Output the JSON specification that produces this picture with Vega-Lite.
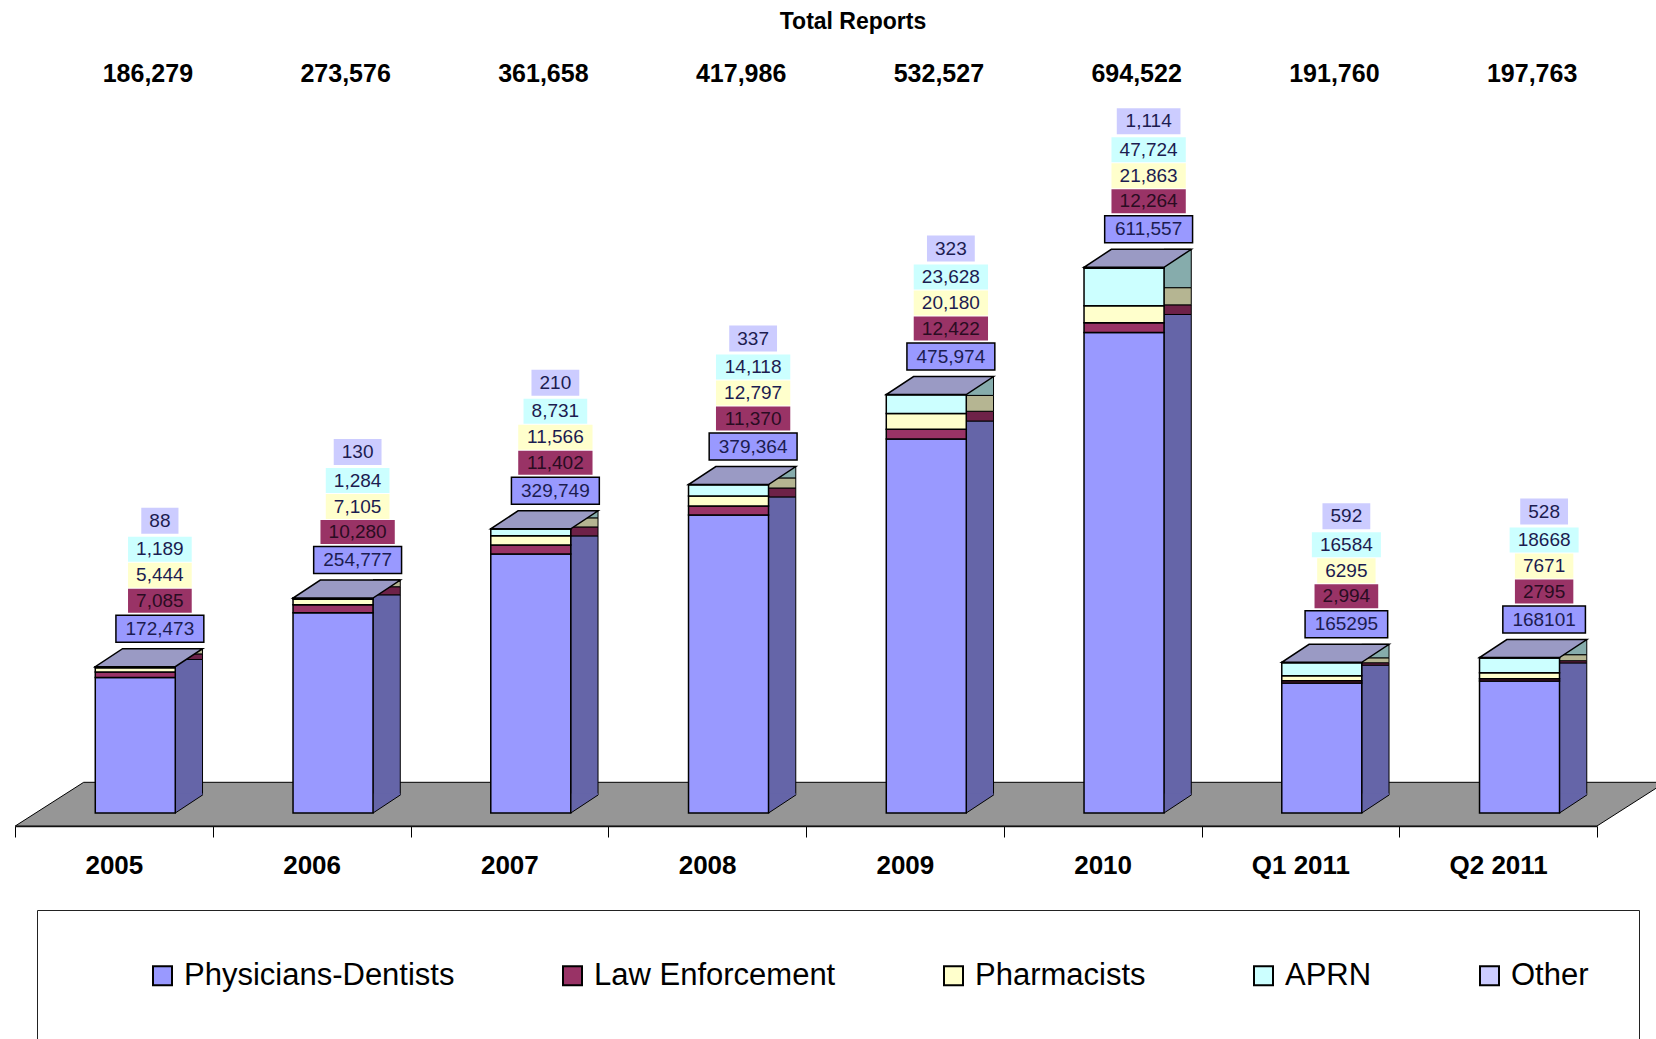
{
  "$schema": "https://vega.github.io/schema/vega-lite/v6.json",
  "autosize": {"type": "pad"},
  "padding": {"top": 11, "left": 13, "right": 0, "bottom": 0},
  "background": "white",
  "config": {"view": {"stroke": null}, "font": "Liberation Sans"},
  "title": {"text": "Total Reports", "anchor": "middle", "frame": "group", "dx": 47, "offset": 20, "font": "Liberation Sans", "fontSize": 23, "fontWeight": "bold", "color": "#000"},
  "datasets": {
    "reports": [
      {"period": "2005", "role": "Physicians-Dentists", "count": 172473, "label": "172,473"},
      {"period": "2005", "role": "Law Enforcement", "count": 7085, "label": "7,085"},
      {"period": "2005", "role": "Pharmacists", "count": 5444, "label": "5,444"},
      {"period": "2005", "role": "APRN", "count": 1189, "label": "1,189"},
      {"period": "2005", "role": "Other", "count": 88, "label": "88"},
      {"period": "2006", "role": "Physicians-Dentists", "count": 254777, "label": "254,777"},
      {"period": "2006", "role": "Law Enforcement", "count": 10280, "label": "10,280"},
      {"period": "2006", "role": "Pharmacists", "count": 7105, "label": "7,105"},
      {"period": "2006", "role": "APRN", "count": 1284, "label": "1,284"},
      {"period": "2006", "role": "Other", "count": 130, "label": "130"},
      {"period": "2007", "role": "Physicians-Dentists", "count": 329749, "label": "329,749"},
      {"period": "2007", "role": "Law Enforcement", "count": 11402, "label": "11,402"},
      {"period": "2007", "role": "Pharmacists", "count": 11566, "label": "11,566"},
      {"period": "2007", "role": "APRN", "count": 8731, "label": "8,731"},
      {"period": "2007", "role": "Other", "count": 210, "label": "210"},
      {"period": "2008", "role": "Physicians-Dentists", "count": 379364, "label": "379,364"},
      {"period": "2008", "role": "Law Enforcement", "count": 11370, "label": "11,370"},
      {"period": "2008", "role": "Pharmacists", "count": 12797, "label": "12,797"},
      {"period": "2008", "role": "APRN", "count": 14118, "label": "14,118"},
      {"period": "2008", "role": "Other", "count": 337, "label": "337"},
      {"period": "2009", "role": "Physicians-Dentists", "count": 475974, "label": "475,974"},
      {"period": "2009", "role": "Law Enforcement", "count": 12422, "label": "12,422"},
      {"period": "2009", "role": "Pharmacists", "count": 20180, "label": "20,180"},
      {"period": "2009", "role": "APRN", "count": 23628, "label": "23,628"},
      {"period": "2009", "role": "Other", "count": 323, "label": "323"},
      {"period": "2010", "role": "Physicians-Dentists", "count": 611557, "label": "611,557"},
      {"period": "2010", "role": "Law Enforcement", "count": 12264, "label": "12,264"},
      {"period": "2010", "role": "Pharmacists", "count": 21863, "label": "21,863"},
      {"period": "2010", "role": "APRN", "count": 47724, "label": "47,724"},
      {"period": "2010", "role": "Other", "count": 1114, "label": "1,114"},
      {"period": "Q1 2011", "role": "Physicians-Dentists", "count": 165295, "label": "165295"},
      {"period": "Q1 2011", "role": "Law Enforcement", "count": 2994, "label": "2,994"},
      {"period": "Q1 2011", "role": "Pharmacists", "count": 6295, "label": "6295"},
      {"period": "Q1 2011", "role": "APRN", "count": 16584, "label": "16584"},
      {"period": "Q1 2011", "role": "Other", "count": 592, "label": "592"},
      {"period": "Q2 2011", "role": "Physicians-Dentists", "count": 168101, "label": "168101"},
      {"period": "Q2 2011", "role": "Law Enforcement", "count": 2795, "label": "2795"},
      {"period": "Q2 2011", "role": "Pharmacists", "count": 7671, "label": "7671"},
      {"period": "Q2 2011", "role": "APRN", "count": 18668, "label": "18668"},
      {"period": "Q2 2011", "role": "Other", "count": 528, "label": "528"}
    ]
  },
  "spacing": 0,
  "vconcat": [
    {
      "width": 1582,
      "height": 40,
      "data": {"name": "reports"},
      "mark": {"type": "text", "xOffset": 34, "font": "Liberation Sans", "fontSize": 25, "fontWeight": "bold", "fill": "#000", "baseline": "middle"},
      "encoding": {
        "x": {"field": "period", "type": "nominal", "sort": null, "scale": {"type": "band", "domain": ["2005", "2006", "2007", "2008", "2009", "2010", "Q1 2011", "Q2 2011"], "paddingInner": 0, "paddingOuter": 0}, "axis": null},
        "text": {"aggregate": "sum", "field": "count", "type": "quantitative", "format": ",d"}
      }
    },
    {
      "width": 1582,
      "height": 732,
      "data": {"name": "reports"},
      "transform": [
        {"joinaggregate": [{"op": "sum", "field": "count", "as": "total"}], "groupby": ["period"]},
        {"calculate": "indexof(['Physicians-Dentists','Law Enforcement','Pharmacists','APRN','Other'], datum.role)", "as": "rank"},
        {"stack": "count", "groupby": ["period"], "sort": [{"field": "rank", "order": "ascending"}], "as": ["y0", "y1"]},
        {"calculate": "length(split(datum.label, ',')) - 1", "as": "ncomma"},
        {"calculate": "(length(datum.label) - datum.ncomma) * 10.6 + datum.ncomma * 5.3 + (datum.rank === 0 ? 19 : 16)", "as": "boxw"}
      ],
      "encoding": {
        "x": {
          "field": "period", "type": "nominal", "sort": null,
          "scale": {"type": "band", "domain": ["2005", "2006", "2007", "2008", "2009", "2010", "Q1 2011", "Q2 2011"], "paddingInner": 0, "paddingOuter": 0},
          "axis": {"title": null, "orient": "bottom", "tickBand": "extent", "tickSize": 11, "tickColor": "#000", "tickWidth": 1, "domainColor": "#222", "domainWidth": 1.5, "labelFont": "Liberation Sans", "labelFontSize": 26, "labelFontWeight": "bold", "labelColor": "#000", "labelBaseline": "middle", "labelPadding": 28, "labelAngle": 0, "grid": false}
        },
        "y": {"field": "y1", "type": "quantitative", "scale": {"domain": [-16545, 915071], "nice": false, "zero": false}, "axis": null}
      },
      "layer": [
        {
          "transform": [{"filter": "datum.period === '2005' && datum.rank === 0"}],
          "mark": {"type": "point", "shape": "M -98.6 13 L 1483.1 13 L 1551.5 -30.7 L -30.2 -30.7 Z", "size": 4, "filled": true, "fill": "#969696", "stroke": "#000", "strokeWidth": 1, "opacity": 1},
          "encoding": {"y": {"field": "y0", "type": "quantitative"}}
        },
        {
          "transform": [{"filter": "datum.rank === 0"}],
          "mark": {"type": "bar", "width": 27.3, "xOffset": 75, "yOffset": -18, "y2Offset": -18, "fill": "#6565a8", "stroke": "#000", "strokeWidth": 1},
          "encoding": {"y2": {"field": "y0"}}
        },
        {
          "transform": [{"filter": "datum.rank === 1"}],
          "mark": {"type": "bar", "width": 27.3, "xOffset": 75, "yOffset": -18, "y2Offset": -18, "fill": "#6e2248", "stroke": "#000", "strokeWidth": 1},
          "encoding": {"y2": {"field": "y0"}}
        },
        {
          "transform": [{"filter": "datum.rank === 2"}],
          "mark": {"type": "bar", "width": 27.3, "xOffset": 75, "yOffset": -18, "y2Offset": -18, "fill": "#b5b592", "stroke": "#000", "strokeWidth": 1},
          "encoding": {"y2": {"field": "y0"}}
        },
        {
          "transform": [{"filter": "datum.rank === 3"}],
          "mark": {"type": "bar", "width": 27.3, "xOffset": 75, "yOffset": -18, "y2Offset": -18, "fill": "#86acac", "stroke": "#000", "strokeWidth": 1},
          "encoding": {"y2": {"field": "y0"}}
        },
        {
          "transform": [{"filter": "datum.rank === 4"}],
          "mark": {"type": "bar", "width": 27.3, "xOffset": 75, "yOffset": -18, "y2Offset": -18, "fill": "#9090b5", "stroke": "#000", "strokeWidth": 1},
          "encoding": {"y2": {"field": "y0"}}
        },
        {
          "transform": [{"filter": "datum.rank === 0"}],
          "mark": {"type": "point", "shape": "M 61.4 0 L 61.4 -19.5 L 88.7 -19.5 L 88.7 -18 Z", "size": 4, "filled": true, "fill": "#6565a8", "strokeWidth": 0, "opacity": 1},
          "encoding": {"y": {"field": "y0", "type": "quantitative"}}
        },
        {
          "transform": [{"filter": "datum.rank === 0"}],
          "mark": {"type": "point", "shape": "M 61.4 0 L 88.7 -18", "size": 4, "filled": false, "stroke": "#000", "strokeWidth": 1, "opacity": 1},
          "encoding": {"y": {"field": "y0", "type": "quantitative"}}
        },
        {
          "mark": {"type": "bar", "width": 80, "xOffset": 21.4, "stroke": "#000", "strokeWidth": 1.5},
          "encoding": {
            "y2": {"field": "y0"},
            "color": {
              "field": "role", "type": "nominal",
              "scale": {"domain": ["Physicians-Dentists", "Law Enforcement", "Pharmacists", "APRN", "Other"], "range": ["#9999ff", "#993366", "#ffffcc", "#ccffff", "#ccccff"]},
              "legend": {"orient": "none", "legendX": 22, "legendY": 856, "direction": "horizontal", "columns": 5, "title": "\u00a0\u00a0\u00a0\u00a0\u00a0\u00a0\u00a0\u00a0\u00a0\u00a0\u00a0\u00a0", "titleOrient": "right", "titleFontSize": 30, "titlePadding": 0, "labelFont": "Liberation Sans", "labelFontSize": 31, "labelColor": "#000", "labelLimit": 500, "symbolType": "square", "symbolSize": 361, "symbolStrokeColor": "#000", "symbolStrokeWidth": 2, "symbolOffset": 60, "labelOffset": 6, "columnPadding": 42, "padding": 50, "strokeColor": "#222", "fillColor": "white"}
            }
          }
        },
        {
          "transform": [{"filter": "datum.rank === 0"}],
          "mark": {"type": "point", "shape": "M -18.6 0 L 61.4 0 L 88.7 -18 L 8.7 -18 Z", "size": 4, "filled": true, "fill": "#9a9ac4", "stroke": "#000", "strokeWidth": 1.5, "opacity": 1},
          "encoding": {"y": {"field": "total", "type": "quantitative"}}
        },
        {
          "transform": [{"filter": "datum.rank === 0"}],
          "encoding": {"y": {"field": "total", "type": "quantitative"}},
          "layer": [
            {"mark": {"type": "bar", "xOffset": 46, "yOffset": -51.5, "y2Offset": -24.5, "fill": "#9999ff", "stroke": "#000", "strokeWidth": 1.5},
             "encoding": {"y2": {"field": "total"}, "size": {"field": "boxw", "type": "quantitative", "scale": null, "legend": null}}},
            {"mark": {"type": "text", "xOffset": 46, "yOffset": -38, "font": "Liberation Sans", "fontSize": 19, "fill": "#1c1c50", "baseline": "middle", "align": "center"},
             "encoding": {"text": {"field": "label", "type": "nominal"}}}
          ]
        },
        {
          "transform": [{"filter": "datum.rank === 1"}],
          "encoding": {"y": {"field": "total", "type": "quantitative"}},
          "layer": [
            {"mark": {"type": "bar", "xOffset": 46, "yOffset": -78, "y2Offset": -54, "fill": "#993366", "strokeWidth": 0},
             "encoding": {"y2": {"field": "total"}, "size": {"field": "boxw", "type": "quantitative", "scale": null, "legend": null}}},
            {"mark": {"type": "text", "xOffset": 46, "yOffset": -66, "font": "Liberation Sans", "fontSize": 19, "fill": "#2a0c22", "baseline": "middle", "align": "center"},
             "encoding": {"text": {"field": "label", "type": "nominal"}}}
          ]
        },
        {
          "transform": [{"filter": "datum.rank === 2"}],
          "encoding": {"y": {"field": "total", "type": "quantitative"}},
          "layer": [
            {"mark": {"type": "bar", "xOffset": 46, "yOffset": -104, "y2Offset": -79, "fill": "#ffffcc", "strokeWidth": 0},
             "encoding": {"y2": {"field": "total"}, "size": {"field": "boxw", "type": "quantitative", "scale": null, "legend": null}}},
            {"mark": {"type": "text", "xOffset": 46, "yOffset": -91.5, "font": "Liberation Sans", "fontSize": 19, "fill": "#1c1c50", "baseline": "middle", "align": "center"},
             "encoding": {"text": {"field": "label", "type": "nominal"}}}
          ]
        },
        {
          "transform": [{"filter": "datum.rank === 3"}],
          "encoding": {"y": {"field": "total", "type": "quantitative"}},
          "layer": [
            {"mark": {"type": "bar", "xOffset": 46, "yOffset": -130, "y2Offset": -105, "fill": "#ccffff", "strokeWidth": 0},
             "encoding": {"y2": {"field": "total"}, "size": {"field": "boxw", "type": "quantitative", "scale": null, "legend": null}}},
            {"mark": {"type": "text", "xOffset": 46, "yOffset": -117.5, "font": "Liberation Sans", "fontSize": 19, "fill": "#1c1c50", "baseline": "middle", "align": "center"},
             "encoding": {"text": {"field": "label", "type": "nominal"}}}
          ]
        },
        {
          "transform": [{"filter": "datum.rank === 4"}],
          "encoding": {"y": {"field": "total", "type": "quantitative"}},
          "layer": [
            {"mark": {"type": "bar", "xOffset": 46, "yOffset": -159, "y2Offset": -133, "fill": "#ccccff", "strokeWidth": 0},
             "encoding": {"y2": {"field": "total"}, "size": {"field": "boxw", "type": "quantitative", "scale": null, "legend": null}}},
            {"mark": {"type": "text", "xOffset": 46, "yOffset": -146, "font": "Liberation Sans", "fontSize": 19, "fill": "#1c1c50", "baseline": "middle", "align": "center"},
             "encoding": {"text": {"field": "label", "type": "nominal"}}}
          ]
        }
      ]
    }
  ]
}
